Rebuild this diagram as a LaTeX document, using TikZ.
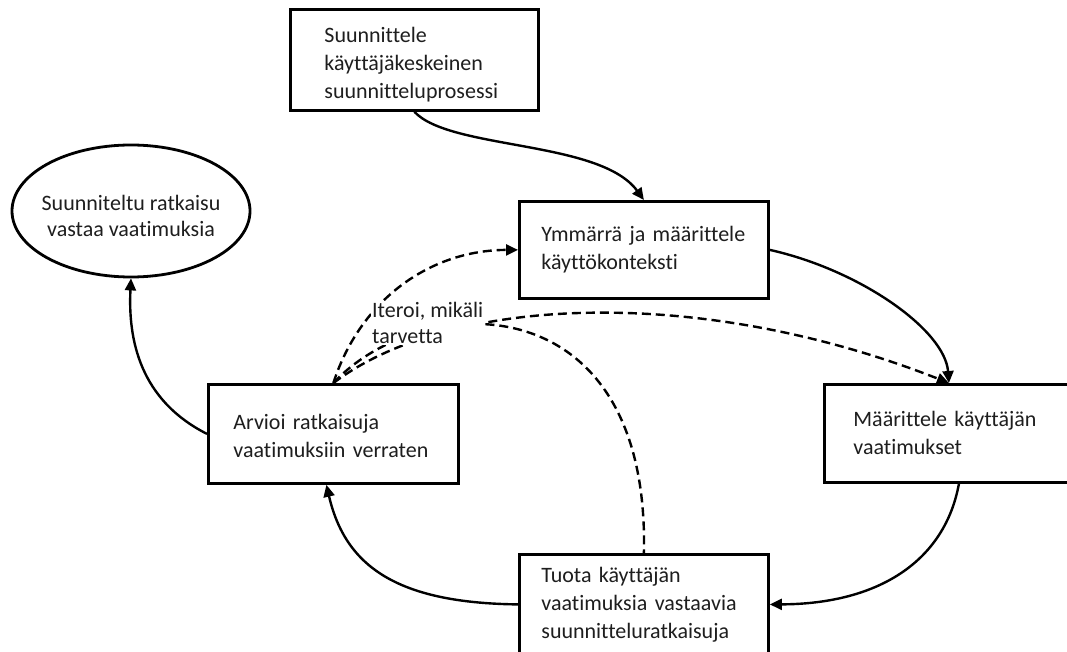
\documentclass[tikz,border=0pt]{standalone}
\usepackage{fontspec}
\setmainfont{Carlito}[Ligatures={NoCommon}]
\usetikzlibrary{arrows.meta,shapes.geometric,calc}
\definecolor{ink}{HTML}{1E1E1E}
\tikzset{
  stagebox/.style={draw=black, line width=2.8pt, rectangle, anchor=north west,
    align=left, inner ysep=0pt, text=ink,
    font=\fontsize{22}{28}\selectfont},
  flow/.style={line width=2.4pt, -{Triangle[length=12pt,width=11pt]}},
  iterate/.style={line width=2.4pt, dash pattern=on 9pt off 5pt},
  iterarrow/.style={iterate, -{Triangle[length=12pt,width=11pt]}},
}
\begin{document}
\begin{tikzpicture}[x=1pt, y=-1pt]
\useasboundingbox (0,0) rectangle (1067,652);
\clip (0,0) rectangle (1067,652);
\fill[white] (0,0) rectangle (1067,652);

% process stages
\node[stagebox, inner xsep=34pt, text width=180pt, minimum width=248pt, minimum height=101pt]
  (plan) at (289,8) {\rule{0pt}{24pt}Suunnittele\\käyttäjäkeskeinen\\suunnitteluprosessi};
\node[stagebox, inner xsep=22pt, text width=205pt, minimum width=249pt, minimum height=97pt]
  (context) at (518,200) {Ymmärrä ja määrittele\\käyttökonteksti};
\node[stagebox, inner xsep=29pt, text width=191pt, minimum width=249pt, minimum height=98pt]
  (reqs) at (823,383) {Määrittele käyttäjän\\vaatimukset};
\node[stagebox, inner xsep=22pt, text width=205pt, minimum width=249pt, minimum height=100pt]
  (design) at (518,553) {Tuota käyttäjän\\vaatimuksia vastaavia\\suunnitteluratkaisuja};
\node[stagebox, inner xsep=25pt, text width=200pt, minimum width=250pt, minimum height=99pt]
  (evaluate) at (207,383) {\rule{0pt}{20pt}Arvioi ratkaisuja\\vaatimuksiin verraten};

% end state
\node[draw=black, line width=2.8pt, ellipse, inner sep=0pt, minimum width=238pt,
  minimum height=132pt] (done) at (131,211) {};
\node[align=center, text=ink, inner sep=0pt, font=\fontsize{22}{26}\selectfont]
  (donetext) at (131,216) {Suunniteltu ratkaisu\\vastaa vaatimuksia};

% main cycle
\draw[flow] (plan.south) .. controls (450,150) and (600,140) .. (context.north);
\draw[flow] (context.east) .. controls (860,270) and (945,330) .. (reqs.north);
\draw[flow] ($(reqs.south)+(10,0)$) .. controls (945,560) and (880,604) .. (design.east);
\draw[flow] (design.west) .. controls (395,603) and (345,565) .. ($(evaluate.south)+(-7,0)$);
\draw[flow] (evaluate.west) .. controls (140,400) and (128,340) .. (done.south);

% iteration paths
\draw[iterarrow] (evaluate.north) .. controls (360,300) and (430,250) .. (context.west);
\draw[iterarrow] (evaluate.north) .. controls (450,295) and (700,285) .. (reqs.north);
\draw[iterate] (evaluate.north) .. controls (420,290) and (650,280) .. (design.north);

\node[fill=white, align=left, inner sep=1pt, anchor=north west, text=ink,
  font=\fontsize{22}{26}\selectfont] (note) at (371,301) {Iteroi, mikäli\\tarvetta};
\end{tikzpicture}
\end{document}
